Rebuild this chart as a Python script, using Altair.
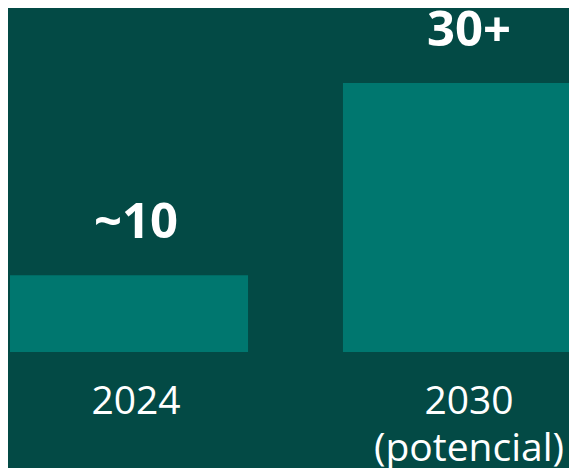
import altair as alt
import pandas as pd

categories = ["2024", "2030\n(potencial)"]
values = [10, 35]
labels = ["~10", "30+"]

df = pd.DataFrame({"cat": categories, "value": values, "label": labels})

BG = "#034a45"
BAR = "#00776f"
FONT = "Open Sans"

x = alt.X(
    "cat:N",
    sort=categories,
    scale=alt.Scale(paddingInner=0.285, paddingOuter=0.006, range=[0, 575]),
    axis=alt.Axis(
        title=None,
        domain=False,
        ticks=False,
        labelAngle=0,
        labelFont=FONT,
        labelFontSize=39,
        labelColor="white",
        labelBaseline="alphabetic",
        labelPadding=61,
        labelLineHeight=47,
        labelOffset=7,
        labelLimit=0,
        labelExpr="split(datum.label, '\\n')",
    ),
)
y = alt.Y("value:Q", scale=alt.Scale(domain=[0, 44.76], nice=False), axis=None)

bars = alt.Chart(df).mark_bar(color=BAR).encode(x=x, y=y)
text = alt.Chart(df).mark_text(
    font=FONT, fontSize=49, fontWeight="bold", color="white",
    baseline="alphabetic", dy=-37, dx=7,
).encode(x=x, y=y, text="label:N")

chart = (
    alt.layer(bars, text)
    .properties(
        width=561,
        height=344,
        background=BG,
        autosize=alt.AutoSizeParams(type="none"),
        padding={"left": 0, "top": 0, "right": 0, "bottom": 116},
    )
    .configure_view(stroke=None)
)

chart.save("out.html", embed_options={"renderer": "svg", "actions": False})
